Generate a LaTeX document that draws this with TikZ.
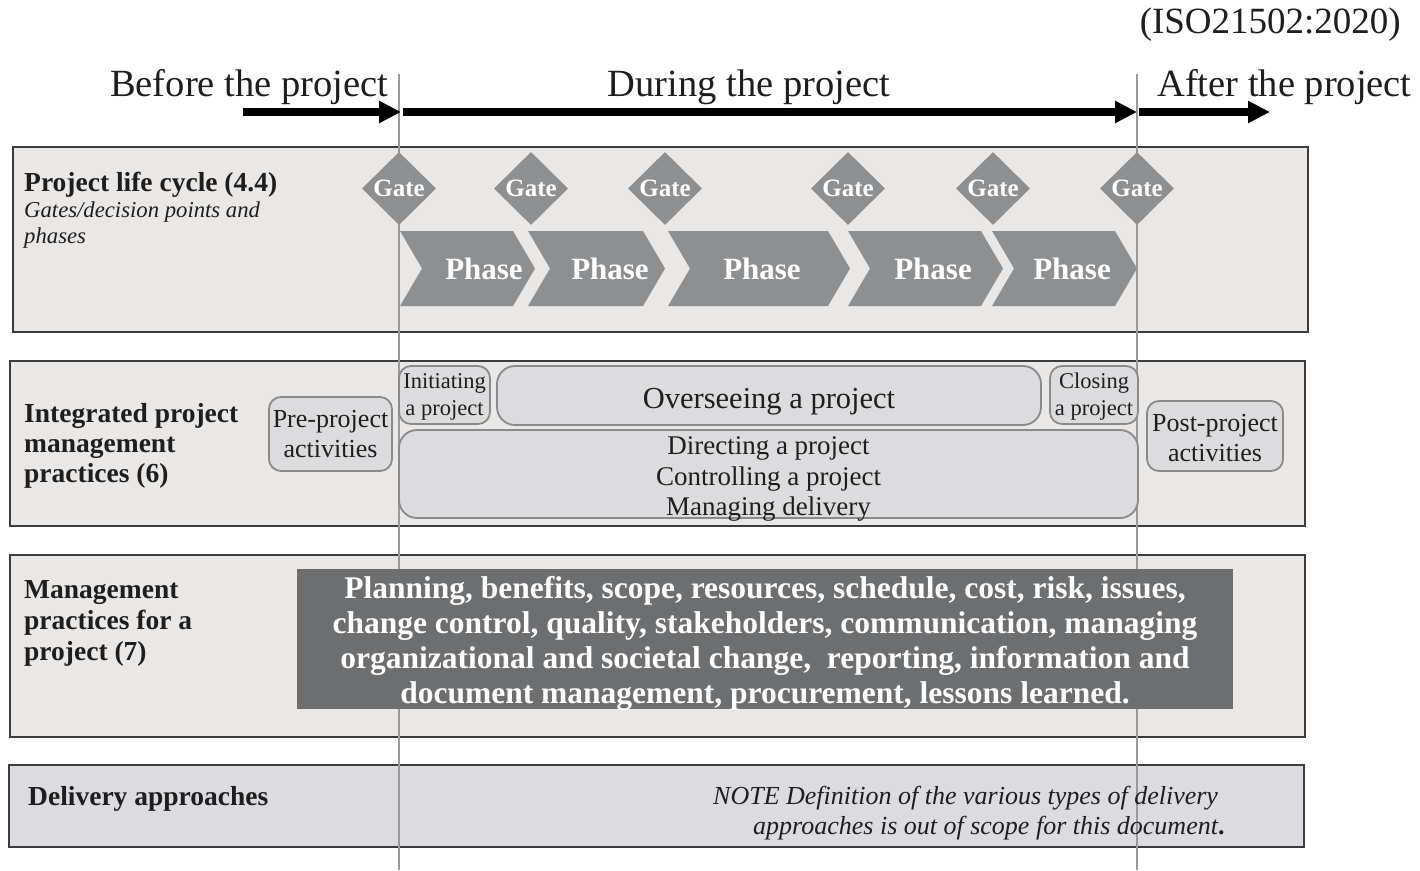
\documentclass[tikz,border=0pt]{standalone}
\usepackage{fontspec}
\setmainfont{Liberation Serif}
\newfontfamily\isofont{Liberation Serif}
\usetikzlibrary{arrows.meta,shapes.geometric}
\definecolor{bandfill}{HTML}{EAE8E6}
\definecolor{bandfillb}{HTML}{DCDBE0}
\definecolor{bandedge}{HTML}{3C3C3C}
\definecolor{gatefill}{HTML}{8E8F91}
\definecolor{boxfill}{HTML}{DCDCDE}
\definecolor{boxedge}{HTML}{8A8A8A}
\definecolor{darkfill}{HTML}{6D6E70}
\definecolor{vlinecol}{HTML}{9A9A9A}
\definecolor{txt}{HTML}{1E1E1E}
\newcommand\fsz[2]{\fontsize{#1}{#2}\selectfont}
\newcommand\chevpath[2]{\fill[gatefill] (#1,231) -- ({#2-22},231) -- (#2,268.5) -- ({#2-22},306) -- (#1,306) -- ({#1+22},268.5) -- cycle;}
\begin{document}
\begin{tikzpicture}[x=1pt,y=-1pt,
  every node/.style={inner sep=0pt, text=txt},
  band/.style={draw=bandedge, line width=2.5pt, fill=bandfill},
  timeline/.style={line width=8pt, -{Triangle[length=22pt,width=21pt]}},
  vline/.style={draw=vlinecol, line width=2.5pt},
  toptext/.style={font=\fsz{38.5}{40}},
  bandtitle/.style={anchor=base west, font=\bfseries\fsz{27.5}{30}},
  gate/.style={diamond, aspect=1, fill=gatefill, minimum width=74pt, minimum height=73pt, text=white, font=\bfseries\fsz{25}{28}},
  phasetext/.style={text=white, font=\bfseries\fsz{31}{34}},
  rbox/.style={draw=boxedge, line width=1.8pt, fill=boxfill, rounded corners=12pt, align=center},
  darkbox/.style={fill=darkfill},
  darktext/.style={text=white, align=center, font=\bfseries\fsz{31.5}{35}},
  notetext/.style={anchor=base west, font=\itshape\fsz{26}{28}}
]
\useasboundingbox (0,0) rectangle (1420,870);
\fill[white] (0,0) rectangle (1420,870);

% header
\node[anchor=base east, font=\isofont\fsz{37}{40}] (iso) at (1401,33) {(ISO21502:2020)};
\node[toptext, anchor=base west] (before) at (110,96) {Before the project};
\node[toptext, anchor=base] (during) at (749,96) {During the project};
\node[toptext, anchor=base west] (after) at (1157,96) {After the project};

% bands
\draw[band] (13,147) rectangle (1308,332);
\draw[band] (10,361) rectangle (1305,526);
\draw[band] (10,555) rectangle (1305,737);
\draw[band, fill=bandfillb] (9,765) rectangle (1304,847);

% vertical gate lines
\coordinate (v1t) at (399,74);
\coordinate (v1b) at (399,870);
\coordinate (v2t) at (1137,74);
\coordinate (v2b) at (1137,870);
\draw[vline] (v1t) -- (v1b);
\draw[vline] (v2t) -- (v2b);

% timeline arrows
\coordinate (a0) at (243,112);
\coordinate (a1) at (401,112);
\coordinate (a2) at (403,112);
\coordinate (a3) at (1137,112);
\coordinate (a4) at (1139,112);
\coordinate (a5) at (1270,112);
\draw[timeline] (a0) -- (a1);
\draw[timeline] (a2) -- (a3);
\draw[timeline] (a4) -- (a5);

% band 1
\node[bandtitle] (t1) at (24,191) {Project life cycle (4.4)};
\node[anchor=base west, font=\itshape\fsz{22.7}{26}] (t1a) at (24,217) {Gates/decision points and};
\node[anchor=base west, font=\itshape\fsz{22.7}{26}] (t1b) at (24,243) {phases};

\chevpath{400}{535}
\chevpath{528}{665}
\chevpath{668}{850}
\chevpath{848}{1003}
\chevpath{992}{1137}
\node[phasetext] (p1) at (484,268.5) {Phase};
\node[phasetext] (p2) at (610,268.5) {Phase};
\node[phasetext] (p3) at (762,268.5) {Phase};
\node[phasetext] (p4) at (933,268.5) {Phase};
\node[phasetext] (p5) at (1072,268.5) {Phase};

\node[gate] (g1) at (399,188.5) {Gate};
\node[gate] (g2) at (531,188.5) {Gate};
\node[gate] (g3) at (665,188.5) {Gate};
\node[gate] (g4) at (848,188.5) {Gate};
\node[gate] (g5) at (993,188.5) {Gate};
\node[gate] (g6) at (1137,188.5) {Gate};

% band 2
\node[bandtitle] (t2a) at (24,422) {Integrated project};
\node[bandtitle] (t2b) at (24,452) {management};
\node[bandtitle] (t2c) at (24,482) {practices (6)};

\node[rbox, minimum width=123pt, minimum height=74pt, font=\fsz{26}{30}] (pre) at (330.5,434) {Pre-project\\activities};
\node[rbox, minimum width=91pt, minimum height=58pt, font=\fsz{22.5}{27}] (init) at (444.5,395) {\rule{0pt}{18pt}Initiating\\a project};
\node[rbox, rounded corners=18pt, minimum width=544pt, minimum height=59pt, font=\fsz{30.5}{32}] (over) at (769,395.5) {\rule{0pt}{33pt}Overseeing a project};
\node[rbox, minimum width=88pt, minimum height=58pt, font=\fsz{22.5}{27}] (close) at (1094,395) {\rule{0pt}{18pt}Closing\\a project};
\node[rbox, rounded corners=18pt, minimum width=739pt, minimum height=88pt] (direct) at (768.5,474) {};
\node[align=center, font=\fsz{27}{30.5}] (directtxt) at (768.5,479) {Directing a project\\Controlling a project\\Managing delivery};
\node[rbox, minimum width=136pt, minimum height=70pt, font=\fsz{26}{30}] (post) at (1215,436) {\rule{0pt}{22pt}Post-project\\activities};

% band 3
\node[bandtitle] (t3a) at (24,598) {Management};
\node[bandtitle] (t3b) at (24,629) {practices for a};
\node[bandtitle] (t3c) at (24,660) {project (7)};
\node[darkbox, minimum width=936pt, minimum height=140pt] (mp) at (765,639) {};
\node[darktext] (mptxt) at (765,643)
  {Planning, benefits, scope, resources, schedule, cost, risk, issues,\\
   change control, quality, stakeholders, communication, managing\\
   organizational and societal change,~ reporting, information and\\
   document management, procurement, lessons learned.};

% band 4
\node[bandtitle] (t4) at (28,805) {Delivery approaches};
\node[notetext] (n1) at (713,804) {NOTE Definition of the various types of delivery};
\node[notetext] (n2) at (753,834) {approaches is out of scope for this document{\upshape\bfseries .}};
\end{tikzpicture}
\end{document}
